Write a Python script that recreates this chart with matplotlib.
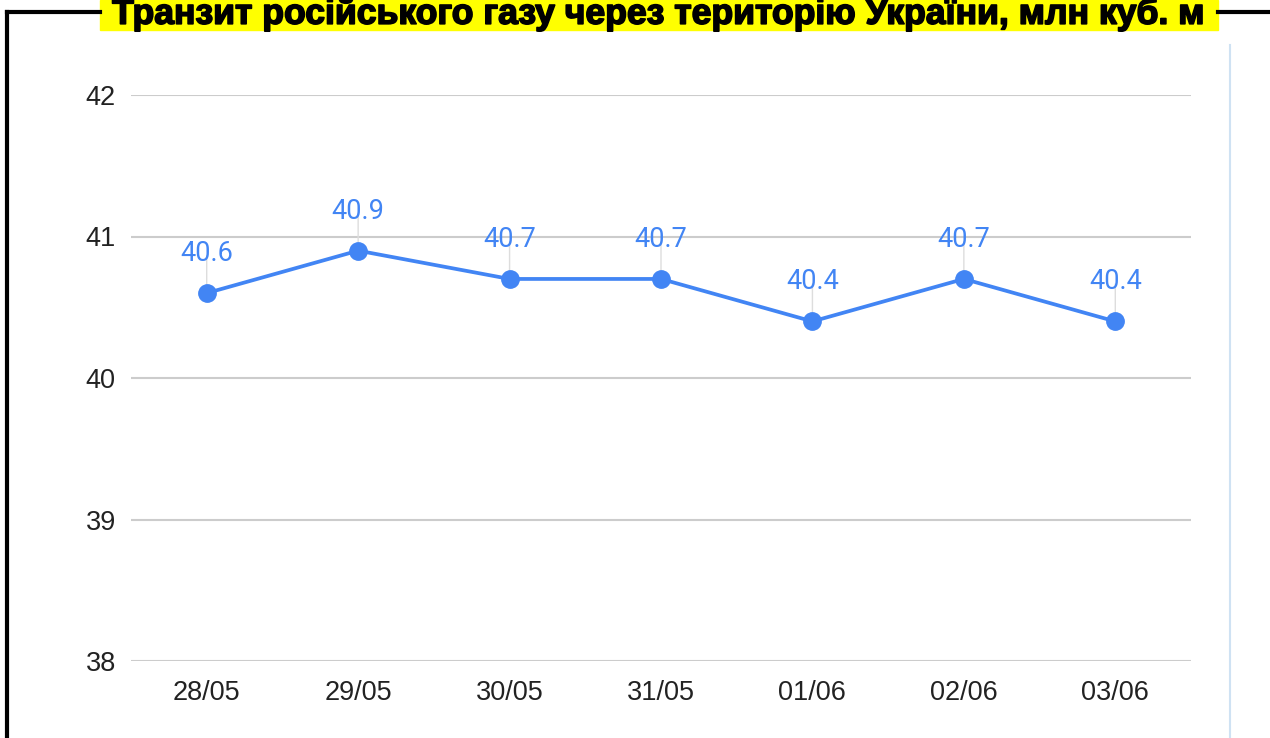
import matplotlib.pyplot as plt
import matplotlib.patheffects as pe
from matplotlib.lines import Line2D
from matplotlib.patches import Rectangle

dates = ['28/05', '29/05', '30/05', '31/05', '01/06', '02/06', '03/06']
transit = [40.6, 40.9, 40.7, 40.7, 40.4, 40.7, 40.4]
title = 'Транзит російського газу через територію України, млн куб. м'

blue = '#4285f4'

fig = plt.figure(figsize=(12.7, 7.38), dpi=100)
ax = fig.add_axes([131/1270, 1-661/738, 1060/1270, 566/738])

x = list(range(len(dates)))
ax.plot(x, transit, '-o', color=blue, lw=2.7, ms=12.5, zorder=3)

# value labels with small leader lines
for xi, v in zip(x, transit):
    ax.annotate('', xy=(xi, v), xytext=(0, 27), textcoords='offset points',
                arrowprops=dict(arrowstyle='-', color='#dddddd', lw=1,
                                shrinkA=0, shrinkB=6), zorder=2)
    ax.annotate(f'{v:.1f}', xy=(xi, v), xytext=(0, 28.5), textcoords='offset points',
                ha='center', va='center', color=blue, fontsize=19.5,
                family='Roboto')

ax.set_xlim(-0.5, 6.5)
ax.set_ylim(38, 42)
ax.set_yticks([38, 39, 40, 41, 42])
ax.set_xticks(x)
ax.set_xticklabels(dates)
ax.grid(axis='y', color='#cccccc', lw=1.5)
ax.set_axisbelow(True)
for s in ax.spines.values():
    s.set_visible(False)
ax.tick_params(length=0, labelsize=19.5, labelcolor='#222222', pad=11)
ax.tick_params(axis='x', pad=14)
for lab in ax.get_xticklabels() + ax.get_yticklabels():
    lab.set_family('Liberation Sans')

# frame around the chart
fig.add_artist(Line2D([7/1270, 7/1270], [0, 1-12/738], color='black', lw=3))
fig.add_artist(Line2D([7/1270, 100/1270], [1-12/738, 1-12/738], color='black', lw=3))
fig.add_artist(Line2D([1218/1270, 1], [1-12/738, 1-12/738], color='black', lw=3))
fig.add_artist(Line2D([1230/1270, 1230/1270], [0, 1-45/738], color='#cfe2f3', lw=1.5))

fig.add_artist(Rectangle((100/1270, 1-30/738), 1118/1270, 30/738,
                         color='#ffff00', transform=fig.transFigure, zorder=1))
fig.text(658/1270, 1-14/738, title, ha='center', va='center', fontsize=25.6,
         fontweight='heavy', family='Liberation Sans', color='black', zorder=2,
         path_effects=[pe.withStroke(linewidth=1.2, foreground='black')])

fig.savefig('out.png', dpi=100)
